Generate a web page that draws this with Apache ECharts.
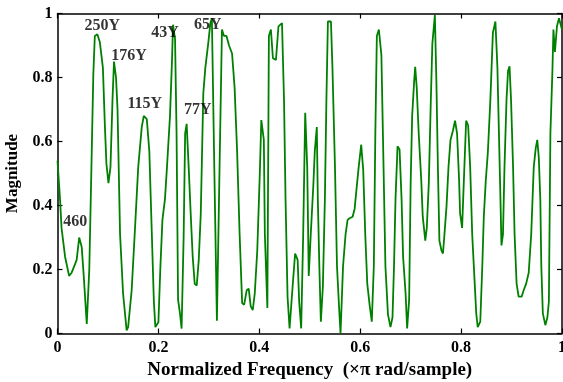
<!DOCTYPE html>
<html>
<head>
<meta charset="utf-8">
<script src="https://cdn.jsdelivr.net/npm/echarts@6/dist/echarts.min.js"></script>
<style>
  html, body { margin: 0; padding: 0; background: #fff; }
  #chart { width: 563px; height: 382px; }
</style>
</head>
<body>
<div id="chart"></div>
<script>
// normalized frequency (x pi rad/sample)
const freq = [
  0.000, 0.005, 0.008, 0.015, 0.023, 0.028, 0.033, 0.038, 0.043, 0.048,
  0.052, 0.058, 0.063, 0.067, 0.071, 0.074, 0.079, 0.084, 0.090, 0.094,
  0.097, 0.101, 0.105, 0.109, 0.112, 0.116, 0.119, 0.124, 0.130, 0.137,
  0.140, 0.147, 0.153, 0.160, 0.167, 0.171, 0.177, 0.182, 0.187, 0.191,
  0.194, 0.200, 0.204, 0.208, 0.213, 0.217, 0.223, 0.227, 0.229, 0.233,
  0.236, 0.239, 0.243, 0.246, 0.250, 0.253, 0.256, 0.260, 0.264, 0.268,
  0.272, 0.276, 0.280, 0.284, 0.289, 0.293, 0.299, 0.303, 0.306, 0.311,
  0.316, 0.321, 0.326, 0.330, 0.335, 0.340, 0.346, 0.351, 0.356, 0.361,
  0.366, 0.370, 0.375, 0.379, 0.383, 0.387, 0.391, 0.396, 0.401, 0.404,
  0.409, 0.411, 0.416, 0.419, 0.423, 0.427, 0.433, 0.438, 0.445, 0.449,
  0.452, 0.456, 0.460, 0.466, 0.471, 0.476, 0.479, 0.483, 0.487, 0.491,
  0.495, 0.498, 0.502, 0.507, 0.510, 0.514, 0.516, 0.519, 0.522, 0.526,
  0.530, 0.533, 0.536, 0.542, 0.545, 0.550, 0.554, 0.558, 0.561, 0.566,
  0.571, 0.575, 0.579, 0.585, 0.589, 0.592, 0.597, 0.602, 0.606, 0.610,
  0.614, 0.619, 0.623, 0.627, 0.630, 0.633, 0.637, 0.642, 0.645, 0.650,
  0.655, 0.660, 0.664, 0.667, 0.670, 0.674, 0.678, 0.682, 0.685, 0.690,
  0.693, 0.697, 0.700, 0.703, 0.707, 0.709, 0.712, 0.716, 0.721, 0.724,
  0.729, 0.732, 0.736, 0.740, 0.743, 0.748, 0.751, 0.754, 0.757, 0.761,
  0.764, 0.767, 0.771, 0.775, 0.779, 0.784, 0.788, 0.792, 0.796, 0.798,
  0.802, 0.806, 0.810, 0.814, 0.818, 0.822, 0.827, 0.830, 0.833, 0.838,
  0.842, 0.845, 0.849, 0.853, 0.858, 0.863, 0.868, 0.872, 0.875, 0.878,
  0.880, 0.883, 0.886, 0.890, 0.893, 0.896, 0.899, 0.903, 0.906, 0.910,
  0.914, 0.920, 0.924, 0.929, 0.934, 0.939, 0.944, 0.948, 0.951, 0.954,
  0.957, 0.959, 0.962, 0.967, 0.971, 0.974, 0.977, 0.981, 0.983, 0.986,
  0.990, 0.994, 1.000
];
const magnitude = [
  0.54, 0.42, 0.33, 0.24, 0.18, 0.19, 0.21, 0.23, 0.30, 0.27,
  0.18, 0.03, 0.20, 0.50, 0.81, 0.93, 0.935, 0.91, 0.83, 0.645,
  0.53, 0.47, 0.52, 0.73, 0.85, 0.80, 0.70, 0.31, 0.125, 0.01,
  0.02, 0.135, 0.31, 0.52, 0.645, 0.68, 0.67, 0.57, 0.31, 0.10,
  0.02, 0.035, 0.21, 0.355, 0.42, 0.52, 0.68, 0.855, 0.965, 0.92,
  0.625, 0.105, 0.06, 0.015, 0.30, 0.625, 0.655, 0.52, 0.375, 0.24,
  0.155, 0.15, 0.23, 0.375, 0.75, 0.83, 0.91, 0.97, 0.985, 0.50,
  0.04, 0.50, 0.95, 0.93, 0.93, 0.90, 0.875, 0.77, 0.57, 0.31,
  0.095, 0.09, 0.135, 0.14, 0.085, 0.073, 0.125, 0.26, 0.50, 0.667,
  0.605, 0.31, 0.08, 0.93, 0.95, 0.86, 0.855, 0.96, 0.97, 0.73,
  0.42, 0.115, 0.016, 0.146, 0.25, 0.23, 0.10, 0.016, 0.31, 0.69,
  0.52, 0.18, 0.31, 0.46, 0.57, 0.645, 0.42, 0.21, 0.037, 0.146,
  0.42, 0.73, 0.975, 0.975, 0.83, 0.52, 0.21, 0.085, 0.0, 0.21,
  0.31, 0.355, 0.36, 0.365, 0.39, 0.44, 0.52, 0.59, 0.51, 0.31,
  0.156, 0.085, 0.037, 0.21, 0.625, 0.93, 0.95, 0.87, 0.625, 0.21,
  0.06, 0.02, 0.05, 0.21, 0.42, 0.585, 0.575, 0.42, 0.24, 0.125,
  0.016, 0.105, 0.47, 0.68, 0.79, 0.833, 0.77, 0.625, 0.48, 0.365,
  0.29, 0.33, 0.47, 0.73, 0.905, 0.995, 0.79, 0.52, 0.29, 0.26,
  0.25, 0.31, 0.395, 0.52, 0.605, 0.635, 0.665, 0.625, 0.48, 0.375,
  0.33, 0.50, 0.665, 0.65, 0.52, 0.31, 0.156, 0.063, 0.02, 0.037,
  0.21, 0.365, 0.48, 0.565, 0.73, 0.94, 0.975, 0.83, 0.625, 0.42,
  0.275, 0.31, 0.52, 0.73, 0.82, 0.835, 0.73, 0.52, 0.31, 0.156,
  0.115, 0.115, 0.135, 0.156, 0.19, 0.31, 0.52, 0.58, 0.605, 0.55,
  0.42, 0.21, 0.063, 0.026, 0.05, 0.10, 0.625, 0.82, 0.95, 0.88,
  0.96, 0.985, 0.95
];
// peak annotations: text, x, y (text centre)
const noteText = ['250Y', '176Y', '43Y', '65Y', '115Y', '77Y', '460'];
const noteX = [0.089, 0.142, 0.213, 0.298, 0.173, 0.278, 0.035];
const noteY = [0.96, 0.867, 0.94, 0.965, 0.717, 0.698, 0.348];

const font = '"Liberation Serif", "Times New Roman", serif';
const chart = echarts.init(document.getElementById('chart'));

const lineData = freq.map((f, i) => [f, magnitude[i]]);
const noteData = noteText.map((t, i) => ({ value: [noteX[i], noteY[i]], name: t }));

const axisBase = {
  type: 'value',
  min: 0,
  max: 1,
  interval: 0.2,
  splitLine: { show: false },
  axisLine: { show: true, onZero: false, lineStyle: { color: '#000', width: 1.5 } },
  axisTick: { show: true, inside: true, length: 5, lineStyle: { color: '#000', width: 1.2 } }
};
const labelStyle = { color: '#000', fontFamily: font, fontWeight: 'bold', fontSize: 16 };

chart.setOption({
  animation: false,
  backgroundColor: '#fff',
  grid: { left: 57.5, right: 1, top: 13.5, bottom: 48.5, containLabel: false, outerBoundsMode: 'none' },
  xAxis: [
    Object.assign({}, axisBase, {
      position: 'bottom',
      axisLabel: Object.assign({ margin: 6 }, labelStyle),
      name: 'Normalized Frequency  (×π rad/sample)',
      nameLocation: 'middle',
      nameGap: 27,
      nameTextStyle: { color: '#000', fontFamily: font, fontWeight: 'bold', fontSize: 19 }
    }),
    Object.assign({}, axisBase, { position: 'top', axisLabel: { show: false } })
  ],
  yAxis: [
    Object.assign({}, axisBase, {
      position: 'left',
      axisLabel: Object.assign({ margin: 5 }, labelStyle),
      name: 'Magnitude',
      nameLocation: 'middle',
      nameGap: 32,
      nameTextStyle: { color: '#000', fontFamily: font, fontWeight: 'bold', fontSize: 17 }
    }),
    Object.assign({}, axisBase, { position: 'right', axisLabel: { show: false } })
  ],
  series: [
    {
      type: 'line',
      data: lineData,
      showSymbol: false,
      smooth: false,
      lineStyle: { color: '#008000', width: 1.8 },
      z: 2
    },
    {
      type: 'scatter',
      data: noteData,
      symbolSize: 0,
      label: {
        show: true,
        position: 'inside',
        formatter: p => p.name,
        color: '#000',
        fontFamily: font,
        fontWeight: 'bold',
        fontSize: 16
      },
      z: 3
    }
  ]
});
</script>
</body>
</html>
